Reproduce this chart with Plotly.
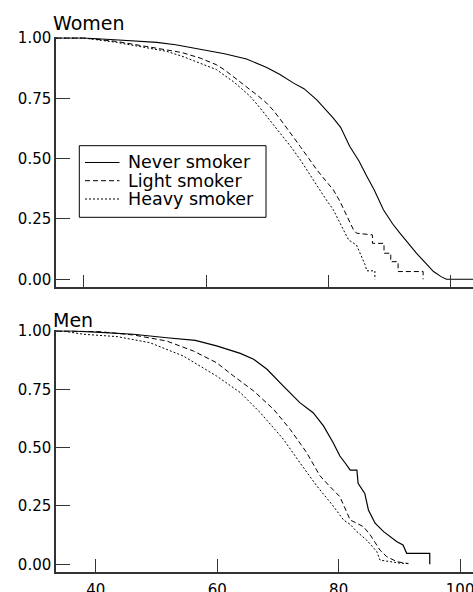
import plotly.graph_objects as go

# ---------------- data ----------------
series_names = ["Never smoker", "Light smoker", "Heavy smoker"]

women_never_age = [35.4, 40, 45, 51.9, 55, 59, 63, 66.6, 69.9, 72, 74.3, 76, 78.1, 80.8, 82, 83.5, 85,
                   86.3, 87.5, 89, 90.5, 91.7, 93, 94.4, 95.8, 97.2, 98.5, 99.3, 104]
women_never_surv = [1.0, 1.0, 0.993, 0.982, 0.972, 0.954, 0.935, 0.913, 0.878, 0.85, 0.813, 0.79, 0.744,
                    0.668, 0.63, 0.55, 0.49, 0.426, 0.37, 0.288, 0.23, 0.191, 0.15, 0.108, 0.07, 0.032,
                    0.01, 0.0, 0.0]

women_light_age = [35.4, 40, 45.3, 50, 53.5, 56, 59, 61.7, 63, 64.4, 65.5, 67.2, 68.5, 69.9, 71, 72.6, 74,
                   75.4, 76.8, 78.1, 79.5, 80.8, 81.9, 83, 84.1, 84.6, 86.8, 87.2, 87.2, 89.1, 89.1, 90.2,
                   90.2, 91.4, 91.4, 95.5, 95.5]
women_light_surv = [1.0, 1.0, 0.986, 0.967, 0.952, 0.94, 0.917, 0.889, 0.868, 0.841, 0.82, 0.786, 0.76,
                    0.73, 0.70, 0.647, 0.6, 0.55, 0.50, 0.454, 0.41, 0.371, 0.322, 0.26, 0.205, 0.191,
                    0.184, 0.184, 0.149, 0.149, 0.108, 0.108, 0.073, 0.073, 0.032, 0.032, 0.0]

women_heavy_age = [35.4, 40, 45.3, 50, 53.5, 56, 59, 61.7, 63, 64.4, 65.8, 67.2, 68.5, 69.9, 71.2, 72.6,
                   74, 75.4, 76.8, 78.1, 79.5, 80.8, 81.9, 82.6, 83.3, 84.6, 85.2, 86.0, 86.3, 87.6, 87.6]
women_heavy_surv = [1.0, 1.0, 0.982, 0.96, 0.945, 0.925, 0.896, 0.869, 0.845, 0.82, 0.79, 0.758, 0.72,
                    0.675, 0.635, 0.592, 0.545, 0.495, 0.44, 0.385, 0.335, 0.288, 0.235, 0.2, 0.163,
                    0.142, 0.108, 0.06, 0.035, 0.035, 0.0]

men_never_age = [33.5, 36, 40, 46.2, 51.7, 56.4, 59.9, 63.8, 66, 68.2, 70.9, 73.6, 75.8, 77.5, 79.1, 80.2,
                 81.2, 81.9, 83.0, 83.2, 84.3, 84.9, 86.0, 87.4, 89.6, 90.6, 91.2, 95.0, 95.0]
men_never_surv = [1.0, 1.0, 0.995, 0.986, 0.971, 0.96, 0.936, 0.904, 0.879, 0.836, 0.764, 0.693, 0.65,
                  0.593, 0.521, 0.464, 0.43, 0.404, 0.404, 0.347, 0.304, 0.233, 0.176, 0.14, 0.097,
                  0.083, 0.047, 0.047, 0.0]

men_light_age = [33.5, 36, 40.7, 46.2, 51.7, 56.1, 59.9, 62.7, 66, 69.3, 72, 74.7, 76.9, 78.5, 80.2, 81.9,
                 83, 84.1, 85.2, 86.3, 86.8, 87.9, 89.6, 91.5]
men_light_surv = [1.0, 1.0, 0.997, 0.983, 0.957, 0.914, 0.864, 0.807, 0.743, 0.664, 0.579, 0.48, 0.38,
                  0.335, 0.29, 0.19, 0.175, 0.161, 0.126, 0.079, 0.061, 0.033, 0.011, 0.003]

men_heavy_age = [33.5, 35, 38, 43.5, 48.9, 54.4, 59.9, 63.8, 67.1, 70.9, 73.6, 76.4, 79.1, 80.8, 81.9, 83,
                 84.6, 86.3, 86.8, 88.5, 90.1, 91.5]
men_heavy_surv = [1.0, 0.998, 0.986, 0.976, 0.95, 0.893, 0.807, 0.736, 0.65, 0.536, 0.436, 0.336, 0.25,
                  0.19, 0.171, 0.14, 0.104, 0.054, 0.018, 0.011, 0.005, 0.003]

y_ticks = [0, 0.25, 0.5, 0.75, 1.0]
x_ticks = [40, 60, 80, 100]
panel_titles = ["Women", "Men"]

# ---------------- layout helpers (pixels -> paper) ----------------
W, H = 473, 592
ML = 56
def px(x):
    return (x - ML) / (W - ML)
def py(y):
    return 1 - y / H

dashes = ["solid", "5px,3px", "2px,2px"]
FONT = "DejaVu Sans"

fig = go.Figure()
women = [(women_never_age, women_never_surv), (women_light_age, women_light_surv),
         (women_heavy_age, women_heavy_surv)]
men = [(men_never_age, men_never_surv), (men_light_age, men_light_surv),
       (men_heavy_age, men_heavy_surv)]
for i, (a, s) in enumerate(women):
    fig.add_trace(go.Scatter(x=a, y=s, mode="lines", name=series_names[i], showlegend=False,
                             line=dict(color="black", width=1.1 if i == 0 else 1.0, dash=dashes[i]),
                             xaxis="x", yaxis="y"))
for i, (a, s) in enumerate(men):
    fig.add_trace(go.Scatter(x=a, y=s, mode="lines", name=series_names[i], showlegend=False,
                             line=dict(color="black", width=1.2 if i == 0 else 1.0, dash=dashes[i]),
                             xaxis="x2", yaxis="y2"))

axcol = "#333333"
common_y = dict(tickmode="array", tickvals=y_ticks, tickformat=".2f", ticks="inside", ticklen=14,
                tickwidth=1.3, tickcolor=axcol, showline=True, linecolor=axcol, linewidth=1.5,
                showgrid=False, zeroline=False, automargin=False,
                tickfont=dict(family=FONT, size=15, color="black"))
common_x = dict(tickmode="array", tickvals=x_ticks, ticks="inside", tickwidth=1.3, tickcolor=axcol,
                showline=True, linecolor=axcol, linewidth=2, showgrid=False, zeroline=False,
                automargin=False, ticklabeloverflow="allow",
                tickfont=dict(family=FONT, size=15, color="black"))

fig.update_layout(
    width=W, height=H, margin=dict(l=ML, r=0, t=0, b=0),
    paper_bgcolor="white", plot_bgcolor="white",
    xaxis=dict(domain=[0, 1], range=[35.42, 103.66], anchor="y", showticklabels=False, ticklen=12,
               **common_x),
    yaxis=dict(domain=[py(287), py(37.3)], range=[-0.032, 1.003], anchor="x", **common_y),
    xaxis2=dict(domain=[0, 1], range=[33.46, 102.12], anchor="y2", showticklabels=True, ticklen=13,
                ticklabelstandoff=3, **common_x),
    yaxis2=dict(domain=[py(572), py(330.3)], range=[-0.033, 1.003], anchor="x2", **common_y),
    showlegend=False,
)

# panel titles
fig.add_annotation(text=panel_titles[0], xref="paper", yref="paper", x=px(51), y=py(22.5),
                   xanchor="left", yanchor="middle", showarrow=False,
                   font=dict(family=FONT, size=19, color="black"))
fig.add_annotation(text=panel_titles[1], xref="paper", yref="paper", x=px(51), y=py(319.5),
                   xanchor="left", yanchor="middle", showarrow=False,
                   font=dict(family=FONT, size=19, color="black"))

# legend box (drawn in the top panel)
fig.add_shape(type="rect", xref="paper", yref="paper", x0=px(79.3), x1=px(266), y0=py(217.3),
              y1=py(145.7), line=dict(color="black", width=1), fillcolor="white", layer="above")
row_y = [162.5, 180.7, 199]
for i, name in enumerate(series_names):
    fig.add_shape(type="line", xref="paper", yref="paper", x0=px(85), x1=px(119.5),
                  y0=py(row_y[i]), y1=py(row_y[i]),
                  line=dict(color="black", width=1, dash=dashes[i]), layer="above")
    fig.add_annotation(text=name, xref="paper", yref="paper", x=px(126), y=py(row_y[i]),
                       xanchor="left", yanchor="middle", showarrow=False,
                       font=dict(family=FONT, size=17.5, color="black"))

fig.write_html("out.html", config={"displayModeBar": False},
               post_script="document.body.style.margin='0px';")
